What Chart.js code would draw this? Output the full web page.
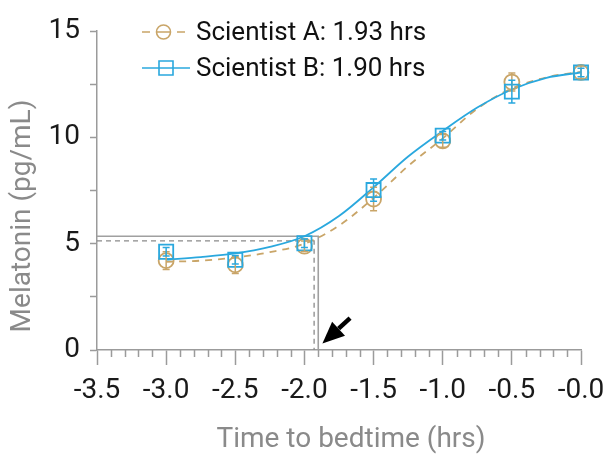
<!DOCTYPE html>
<html>
<head>
<meta charset="utf-8">
<script src="https://cdn.jsdelivr.net/npm/chart.js@4.4.0/dist/chart.umd.min.js"></script>
<style>
    html, body { margin: 0; padding: 0; background: #fff; }
    #wrap { width: 603px; height: 458px; }
</style>
</head>
<body>
<div id="wrap"><canvas id="melatonin-chart" width="603" height="458"></canvas></div>
<script>
// values
const seriesNames = ['Scientist A: 1.93 hrs', 'Scientist B: 1.90 hrs'];
const onsetTimes = [-1.93, -1.90];
const onsetLevels = [5.13, 5.35];

const sampleTimes = [-3.0, -2.5, -2.0, -1.5, -1.0, -0.5, 0.0];
const meanA = [4.2, 4.0, 4.88, 7.1, 9.83, 12.6, 13.05];
const errA = [0.42, 0.4, 0.25, 0.55, 0.3, 0.42, 0.3];
const meanB = [4.62, 4.24, 5.02, 7.52, 10.08, 12.15, 13.05];
const errB = [0.2, 0.2, 0.2, 0.52, 0.2, 0.53, 0.2];

const fitTimes = [-3.0, -2.75, -2.5, -2.25, -2.0, -1.75, -1.5, -1.25, -1.0, -0.75, -0.5, -0.25, 0.0];
const fitA = [4.15, 4.2, 4.35, 4.6, 5.0, 5.85, 7.15, 8.65, 9.95, 11.35, 12.3, 12.82, 13.08];
const fitB = [4.25, 4.37, 4.54, 4.85, 5.35, 6.3, 7.65, 9.1, 10.3, 11.4, 12.25, 12.8, 13.05];

const xTickLabels = ['-3.5', '-3.0', '-2.5', '-2.0', '-1.5', '-1.0', '-0.5', '-0.0'];
const yTickValues = [0, 5, 10, 15];
const yTickLabels = ['0', '5', '10', '15'];
const xTitle = 'Time to bedtime (hrs)';
const yTitle = 'Melatonin (pg/mL)';

const arrowTail = [-1.67, 1.5];
const arrowTip = [-1.87, 0.3];

const colorA = '#c9a568';
const colorB = '#2aa8de';
const axisGray = '#9b9b9b';
const titleGray = '#8a8a8a';
const FONT = 'Roboto, "Liberation Sans", sans-serif';

function pairs(xs, ys) {
    return xs.map((x, i) => ({ x: x, y: ys[i] }));
}

const extras = {
    id: 'extras',
    afterDatasetsDraw(chart) {
        const ctx = chart.ctx;
        const x = chart.scales.x;
        const y = chart.scales.y;

        // error bars
        const drawErr = (means, errs, color) => {
            ctx.save();
            ctx.strokeStyle = color;
            ctx.lineWidth = 1.5;
            ctx.beginPath();
            sampleTimes.forEach((t, i) => {
                const px = x.getPixelForValue(t);
                const top = y.getPixelForValue(means[i] + errs[i]);
                const bot = y.getPixelForValue(means[i] - errs[i]);
                ctx.moveTo(px, top); ctx.lineTo(px, bot);
                ctx.moveTo(px - 3.5, top); ctx.lineTo(px + 3.5, top);
                ctx.moveTo(px - 3.5, bot); ctx.lineTo(px + 3.5, bot);
            });
            ctx.stroke();
            ctx.restore();
        };
        drawErr(meanA, errA, colorA);
        drawErr(meanB, errB, colorB);

        // arrow pointing at the onset
        const tx = x.getPixelForValue(arrowTip[0]);
        const ty = y.getPixelForValue(arrowTip[1]);
        const sx = x.getPixelForValue(arrowTail[0]);
        const sy = y.getPixelForValue(arrowTail[1]);
        const ang = Math.atan2(ty - sy, tx - sx);
        const headLen = 22, headW = 9.5;
        const bx = tx - headLen * Math.cos(ang);
        const by = ty - headLen * Math.sin(ang);
        ctx.save();
        ctx.strokeStyle = '#000';
        ctx.fillStyle = '#000';
        ctx.lineWidth = 4.5;
        ctx.beginPath();
        ctx.moveTo(sx, sy); ctx.lineTo(bx, by);
        ctx.stroke();
        ctx.beginPath();
        ctx.moveTo(tx, ty);
        ctx.lineTo(bx + headW * Math.sin(ang), by - headW * Math.cos(ang));
        ctx.lineTo(bx - headW * Math.sin(ang), by + headW * Math.cos(ang));
        ctx.closePath();
        ctx.fill();
        ctx.restore();
    },
    afterDraw(chart) {
        const ctx = chart.ctx;
        const x = chart.scales.x;
        const base = chart.chartArea.bottom;

        // minor ticks every 0.1 h
        ctx.save();
        ctx.strokeStyle = axisGray;
        ctx.lineWidth = 1.5;
        ctx.beginPath();
        for (let i = 0; i <= 35; i++) {
            if (i % 5 === 0) continue;
            const px = Math.round(x.getPixelForValue(-3.5 + i * 0.1)) + 0.5;
            ctx.moveTo(px, base); ctx.lineTo(px, base + 7);
        }
        ctx.stroke();
        ctx.restore();

        // axis titles (sit a little off-centre in the reference)
        ctx.save();
        ctx.font = '28px ' + FONT;
        ctx.fillStyle = titleGray;
        ctx.textAlign = 'center';
        ctx.textBaseline = 'middle';
        ctx.fillText(xTitle, 351, 440);
        ctx.translate(23, 216);
        ctx.rotate(-Math.PI / 2);
        ctx.fillText(yTitle, 0, 0);
        ctx.restore();

        // legend
        const rows = [32, 68];
        ctx.save();
        ctx.font = '26px ' + FONT;
        ctx.textBaseline = 'middle';
        ctx.fillStyle = '#111';
        rows.forEach((ry, i) => {
            const col = i === 0 ? colorA : colorB;
            ctx.strokeStyle = col;
            ctx.lineWidth = 1.6;
            ctx.beginPath();
            if (i === 0) {
                ctx.moveTo(142, ry); ctx.lineTo(150, ry);
                ctx.moveTo(177, ry); ctx.lineTo(185, ry);
                ctx.moveTo(156, ry); ctx.lineTo(171, ry);
            } else {
                ctx.moveTo(142, ry); ctx.lineTo(190, ry);
            }
            ctx.stroke();
            ctx.beginPath();
            if (i === 0) {
                ctx.arc(163.5, ry, 7, 0, Math.PI * 2);
            } else {
                ctx.rect(159, ry - 7, 14, 14);
            }
            ctx.stroke();
            ctx.fillText(seriesNames[i], 196, ry + 1);
        });
        ctx.restore();
    }
};

const tickFont = { family: FONT, size: 28 };

new Chart(document.getElementById('melatonin-chart'), {
    type: 'scatter',
    data: {
        datasets: [
            {
                label: 'A points',
                data: pairs(sampleTimes, meanA),
                pointStyle: 'circle',
                pointRadius: 7.5,
                pointBorderWidth: 1.8,
                borderColor: colorA,
                backgroundColor: 'rgba(0,0,0,0)',
                clip: false,
                order: 2
            },
            {
                label: 'B points',
                data: pairs(sampleTimes, meanB),
                pointStyle: 'rect',
                pointRadius: 10,
                pointBorderWidth: 1.8,
                borderColor: colorB,
                backgroundColor: 'rgba(0,0,0,0)',
                clip: false,
                order: 1
            },
            {
                label: 'A fit',
                data: pairs(fitTimes, fitA),
                showLine: true,
                borderColor: colorA,
                borderWidth: 1.8,
                borderDash: [7, 6],
                pointRadius: 0,
                cubicInterpolationMode: 'monotone',
                order: 4
            },
            {
                label: 'B fit',
                data: pairs(fitTimes, fitB),
                showLine: true,
                borderColor: colorB,
                borderWidth: 1.8,
                pointRadius: 0,
                cubicInterpolationMode: 'monotone',
                order: 3
            },
            {
                label: 'B onset',
                data: [
                    { x: -3.5, y: onsetLevels[1] },
                    { x: onsetTimes[1], y: onsetLevels[1] },
                    { x: onsetTimes[1], y: 0 }
                ],
                showLine: true,
                borderColor: '#a0a0a0',
                borderWidth: 1.6,
                pointRadius: 0,
                order: 6
            },
            {
                label: 'A onset',
                data: [
                    { x: -3.5, y: onsetLevels[0] },
                    { x: onsetTimes[0], y: onsetLevels[0] },
                    { x: onsetTimes[0], y: 0 }
                ],
                showLine: true,
                borderColor: '#8a8a8a',
                borderWidth: 1.3,
                borderDash: [5, 4],
                pointRadius: 0,
                order: 5
            }
        ]
    },
    options: {
        responsive: false,
        devicePixelRatio: 1,
        animation: false,
        layout: { padding: { top: 31, right: 22, left: 0, bottom: 0 } },
        plugins: {
            legend: { display: false },
            tooltip: { enabled: false }
        },
        scales: {
            x: {
                type: 'linear',
                min: -3.5,
                max: 0,
                afterFit: s => {
                    s.height = 108;
                    s.paddingLeft = 0;
                    s.paddingRight = 0;
                },
                border: { color: axisGray, width: 1.5 },
                grid: { drawOnChartArea: false, tickLength: 15, tickColor: axisGray, tickWidth: 1.5 },
                ticks: {
                    stepSize: 0.5,
                    padding: 9,
                    color: '#1a1a1a',
                    font: tickFont,
                    maxRotation: 0,
                    autoSkip: false,
                    callback: (v, i) => xTickLabels[i]
                }
            },
            y: {
                min: 0,
                max: 15,
                afterFit: s => { s.width = 97; },
                border: { color: axisGray, width: 1.5 },
                grid: { drawOnChartArea: false, tickLength: 7, tickColor: axisGray, tickWidth: 1.5 },
                ticks: {
                    stepSize: 2.5,
                    padding: 10,
                    color: '#1a1a1a',
                    font: tickFont,
                    callback: v => {
                        const i = yTickValues.indexOf(v);
                        return i >= 0 ? yTickLabels[i] : '';
                    }
                }
            }
        }
    },
    plugins: [extras]
});
</script>
</body>
</html>
